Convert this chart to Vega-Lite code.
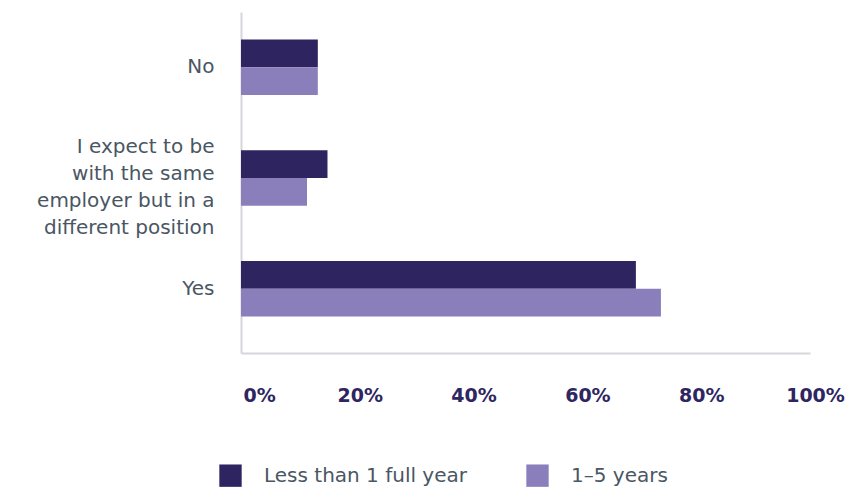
{
  "$schema": "https://vega.github.io/schema/vega-lite/v6.json",
  "width": 569,
  "height": 341,
  "autosize": {"type": "none"},
  "padding": {"left": 241, "top": 12, "right": 36, "bottom": 138},
  "background": "white",
  "data": {
    "values": [
      {"answer": "No", "series": "Less than 1 full year", "pct": 13.5},
      {"answer": "No", "series": "1–5 years", "pct": 13.5},
      {"answer": "I expect to be|with the same|employer but in a|different position", "series": "Less than 1 full year", "pct": 15.2},
      {"answer": "I expect to be|with the same|employer but in a|different position", "series": "1–5 years", "pct": 11.6},
      {"answer": "Yes", "series": "Less than 1 full year", "pct": 69.4},
      {"answer": "Yes", "series": "1–5 years", "pct": 73.8}
    ]
  },
  "mark": {"type": "bar"},
  "encoding": {
    "y": {
      "field": "answer",
      "type": "nominal",
      "sort": ["No", "I expect to be|with the same|employer but in a|different position", "Yes"],
      "scale": {"paddingInner": 0.5, "paddingOuter": 0.29, "align": 0.43},
      "axis": {
        "title": null,
        "ticks": false,
        "domainColor": "#d3d7db",
        "domainWidth": 2,
        "labelPadding": 27,
        "labelFont": "DejaVu Sans",
        "labelFontSize": 20,
        "labelColor": "#4a5663",
        "labelLineHeight": 27,
        "labelLimit": 300,
        "labelOffset": {"condition": {"test": "indexof(datum.label, '|') >= 0", "value": -31}, "value": 0},
        "labelExpr": "split(datum.label, '|')"
      }
    },
    "yOffset": {
      "field": "series",
      "type": "nominal",
      "sort": ["Less than 1 full year", "1–5 years"],
      "scale": {"paddingInner": 0, "paddingOuter": 0}
    },
    "x": {
      "field": "pct",
      "type": "quantitative",
      "scale": {"domain": [0, 100]},
      "axis": {
        "title": null,
        "ticks": false,
        "grid": false,
        "domainColor": "#d3d7db",
        "domainWidth": 2,
        "values": [0, 20, 40, 60, 80, 100],
        "labelExpr": "datum.value + '%'",
        "labelFlush": false,
        "labelAlign": {"condition": {"test": "datum.value == 0", "value": "left"}, "value": "center"},
        "labelOffset": {"condition": {"test": "datum.value == 0", "value": 2}, "value": 5},
        "labelPadding": 33,
        "labelFont": "DejaVu Sans",
        "labelFontSize": 19,
        "labelFontWeight": "bold",
        "labelColor": "#2e2660"
      }
    },
    "color": {
      "field": "series",
      "type": "nominal",
      "sort": ["Less than 1 full year", "1–5 years"],
      "scale": {"domain": ["Less than 1 full year", "1–5 years"], "range": ["#2e2460", "#8a7fbb"]},
      "legend": {
        "title": null,
        "orient": "none",
        "direction": "horizontal",
        "legendX": -22,
        "legendY": 452,
        "symbolType": "square",
        "symbolSize": 500,
        "symbolStrokeWidth": 0,
        "labelFont": "DejaVu Sans",
        "labelFontSize": 20,
        "labelColor": "#4a5663",
        "labelOffset": 22,
        "columnPadding": 59,
        "labelLimit": 400
      }
    }
  },
  "config": {"view": {"stroke": null}}
}
